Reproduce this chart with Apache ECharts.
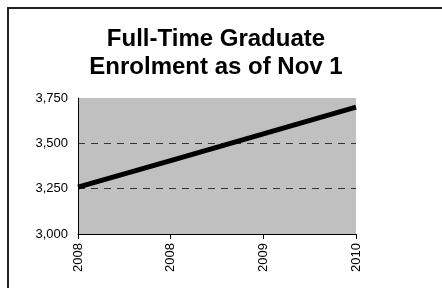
<!DOCTYPE html>
<html>
<head>
<meta charset="utf-8">
<script src="https://cdn.jsdelivr.net/npm/echarts@6/dist/echarts.min.js"></script>
<style>
  html, body { margin: 0; padding: 0; background: #fff; }
  #chart { width: 442px; height: 288px; }
</style>
</head>
<body>
<div id="chart"></div>
<script>
const years = ['2008', '2008', '2009', '2010']
const enrolment = [3258, 3405, 3552, 3700]
const titleLines = ['Full-Time Graduate', 'Enrolment as of Nov 1']

const myChart = echarts.init(document.getElementById('chart'))
const font = 'Liberation Sans, Arial, sans-serif'

const option = {
  backgroundColor: '#fff',
  animation: false,
  graphic: [
    {
      type: 'rect',
      shape: { x: 8, y: 8, width: 460, height: 300 },
      style: { fill: 'none', stroke: '#222', lineWidth: 2 },
      z: 10,
    },
    {
      type: 'text',
      x: 216,
      y: 25,
      style: {
        text: titleLines.join('\n'),
        fontFamily: font,
        fontWeight: 'bold',
        fontSize: 24,
        lineHeight: 28,
        fill: '#000',
        textAlign: 'center',
      },
    },
  ],
  grid: {
    left: 78,
    right: 86,
    top: 98,
    bottom: 54,
    show: true,
    backgroundColor: '#c0c0c0',
    borderWidth: 0,
  },
  xAxis: {
    type: 'category',
    data: years,
    boundaryGap: false,
    axisLine: { lineStyle: { color: '#000', width: 1 } },
    axisTick: { show: true, inside: false, length: 5, lineStyle: { color: '#000' } },
    axisLabel: {
      rotate: 90,
      color: '#000',
      fontFamily: font,
      fontSize: 13,
      margin: 9,
    },
  },
  yAxis: {
    type: 'value',
    min: 3000,
    max: 3750,
    interval: 250,
    axisLine: { show: true, lineStyle: { color: '#000', width: 1 } },
    axisTick: { show: false },
    axisLabel: {
      color: '#000',
      fontFamily: font,
      fontSize: 13,
      margin: 10,
      formatter: (v) => v.toLocaleString('en-US'),
    },
    splitLine: {
      show: true,
      showMaxLine: false,
      showMinLine: false,
      lineStyle: { color: '#333', type: [7, 6], width: 1 },
    },
  },
  series: [
    {
      type: 'line',
      data: enrolment,
      symbol: 'none',
      lineStyle: { color: '#000', width: 5 },
    },
  ],
}
myChart.setOption(option, true)
</script>
</body>
</html>
